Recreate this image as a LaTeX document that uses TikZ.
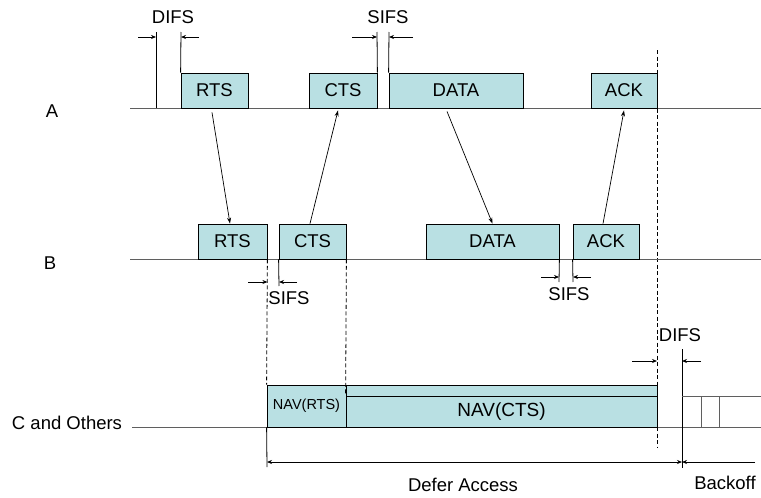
\documentclass[tikz,border=0pt]{standalone}
\usepackage{fontspec}
\setmainfont{Liberation Sans}
\usetikzlibrary{arrows.meta}
\definecolor{pktfill}{RGB}{185,224,227}
\definecolor{tline}{RGB}{95,95,95}

\begin{document}
\begin{tikzpicture}[x=1pt,y=-1pt,
        every node/.style={font=\fontsize{18.5}{20}\selectfont},
        pkt/.style={draw=black,line width=0.8pt,fill=pktfill,inner sep=0pt,minimum height=35pt},
        nav/.style={draw=black,line width=0.8pt,fill=pktfill,inner sep=0pt},
        axis/.style={draw=tline,line width=1pt},
        msg/.style={line width=0.7pt,-{Stealth[length=6pt,width=4pt]}},
        gap/.style={line width=0.7pt,-{Stealth[length=5pt,width=4pt]}},
        mark line/.style={line width=0.8pt},
        ddash/.style={line width=0.8pt,dash pattern=on 4pt off 2.5pt},
        slot/.style={draw=tline,line width=0.5pt}]
    \useasboundingbox (0,0) rectangle (761,498);
        \node (lA) at (52,111) {A};
        \node (lB) at (50,263) {B};
        \node (lC) at (67,423) {C and Others};
        \coordinate (a0) at (130,108);
        \coordinate (a1) at (761,108);
        \coordinate (b0) at (130,259);
        \coordinate (b1) at (761,259);
        \coordinate (c0) at (132,427);
        \coordinate (c1) at (761,427);
        \coordinate (dt) at (657,50);
        \coordinate (db) at (657,447);
        \draw [ddash] (dt) -- (db);
        \draw [axis] (a0) -- (a1);
        \draw [axis] (b0) -- (b1);
        \draw [axis] (c0) -- (c1);
        \node [pkt,minimum width=67pt] (aRTS) at (214.5,90.5) {RTS};
        \node [pkt,minimum width=68pt] (aCTS) at (343,90.5) {CTS};
        \node [pkt,minimum width=134pt] (aDATA) at (456,90.5) {DATA};
        \node [pkt,minimum width=66pt] (aACK) at (624,90.5) {ACK};
        \node [pkt,minimum width=69pt] (bRTS) at (232.5,241.5) {RTS};
        \node [pkt,minimum width=67pt] (bCTS) at (312.5,241.5) {CTS};
        \node [pkt,minimum width=133pt] (bDATA) at (492.5,241.5) {DATA};
        \node [pkt,minimum width=66pt] (bACK) at (606,241.5) {ACK};
        \draw [msg] ([xshift=-2.5pt,yshift=-4pt]aRTS.south) -- ([xshift=-2.5pt]bRTS.north);
        \draw [msg] ([xshift=-2.5pt]bCTS.north) -- ([xshift=-5pt,yshift=-2pt]aCTS.south);
        \draw [msg] ([xshift=-9pt,yshift=-3pt]aDATA.south) -- (bDATA.north);
        \draw [msg] ([xshift=-3pt]bACK.north) -- ([yshift=-2pt]aACK.south);
        \node (tDIFSa) at (173,17) {DIFS};
        \coordinate (da1) at (156,32);
        \coordinate (da2) at (181,32);
        \coordinate (dal) at (138,37);
        \coordinate (dar) at (199,37);
        \draw [mark line] (da1) -- (da1 |- a0);
        \draw [mark line] (da2) -- (aRTS.north west);
        \draw [gap] (dal) -- (dal -| da1);
        \draw [gap] (dar) -- (dar -| da2);
        \node (tSIFSa) at (388,17) {SIFS};
        \coordinate (sa1) at (377,32);
        \coordinate (sa2) at (389,32);
        \coordinate (sal) at (352,37);
        \coordinate (sar) at (413,37);
        \draw [mark line] (sa1) -- (aCTS.north east);
        \draw [mark line] (sa2) -- (aDATA.north west);
        \draw [gap] (sal) -- (sal -| sa1);
        \draw [gap] (sar) -- (sar -| sa2);
        \node [nav,minimum width=79pt,minimum height=42pt,font=\fontsize{14.5}{16}\selectfont] (navRTS) at (306.5,406) {NAV(RTS)};
        \node [nav,minimum width=311pt,minimum height=11pt] (navTop) at (501.5,390.5) {};
        \node [nav,minimum width=311pt,minimum height=31pt,font=\fontsize{19}{21}\selectfont] (navCTS) at (501.5,411.5) {NAV(CTS)};
        \draw [ddash] (bRTS.south east) -- (navRTS.north west);
        \draw [ddash] (bCTS.south east) -- (navCTS.north west);
        \coordinate (sb1) at (279,286);
        \coordinate (sbl) at (248,282);
        \coordinate (sbr) at (297,282);
        \draw [mark line] (bCTS.south west) -- (sb1);
        \draw [gap] (sbl) -- (sbl -| bRTS.east);
        \draw [gap] (sbr) -- (sbr -| sb1);
        \node (tSIFSb) at (289,298) {SIFS};
        \coordinate (sc1) at (559,282);
        \coordinate (sc2) at (573,282);
        \coordinate (scl) at (541,277);
        \coordinate (scr) at (591,277);
        \draw [mark line] (bDATA.south east) -- (sc1);
        \draw [mark line] (bACK.south west) -- (sc2);
        \draw [gap] (scl) -- (scl -| sc1);
        \draw [gap] (scr) -- (scr -| sc2);
        \node (tSIFSc) at (569,294) {SIFS};
        \coordinate (dc1) at (682,349);
        \coordinate (dc2) at (682,468);
        \coordinate (dcl) at (632,361);
        \coordinate (dcr) at (701,361);
        \draw [mark line] (dc1) -- (dc2);
        \draw [gap] (dcl) -- (dcl -| dt);
        \draw [gap] (dcr) -- (dcr -| dc1);
        \node (tDIFSc) at (680,335) {DIFS};
        \coordinate (k0) at (682,396);
        \coordinate (k1) at (761,396);
        \coordinate (k2) at (701,396);
        \coordinate (k3) at (719,396);
        \draw [slot] (k0) -- (k1);
        \draw [slot] (k2) -- (k2 |- c0);
        \draw [slot] (k3) -- (k3 |- c0);
        \coordinate (f0) at (267,467);
        \coordinate (f1) at (267,462);
        \coordinate (f2) at (682,462);
        \coordinate (f3) at (755,462);
        \draw [mark line] (navRTS.south west) -- (f0);
        \draw [gap,{Stealth[length=5pt,width=4pt]}-{Stealth[length=5pt,width=4pt]}] (f1) -- (f2);
        \draw [gap] (f3) -- (f2);
        \node (tDefer) at (463,485) {Defer Access};
        \node (tBack) at (725,483) {Backoff};
    \end{tikzpicture}
\end{document}
